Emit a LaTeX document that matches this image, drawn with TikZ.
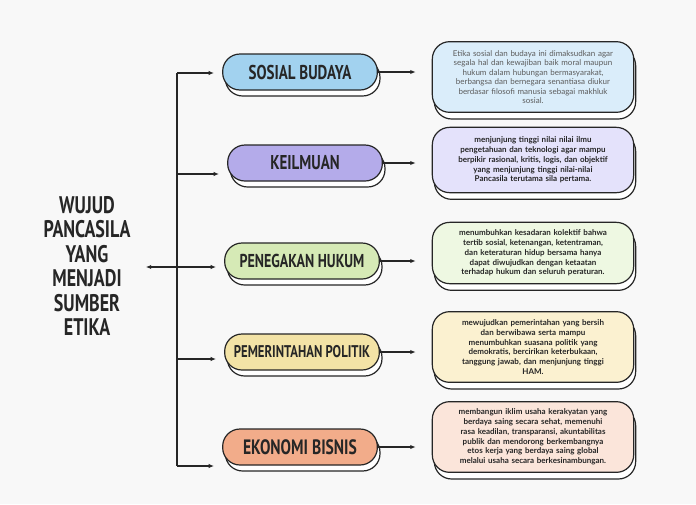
\documentclass[tikz,border=0pt]{standalone}
\usepackage{fontspec}
\setmainfont{Lato}
\newfontfamily\headfont{PT Sans}[FakeStretch=0.75]
\newfontfamily\bodyfont{Lato}
\usepackage{tikz}
\usetikzlibrary{arrows.meta,positioning,shadows}
\definecolor{pagebg}{HTML}{F8F8F8}
\definecolor{inkc}{HTML}{262626}
\definecolor{sosialc}{HTML}{A2D2EF}
\definecolor{ilmuc}{HTML}{B4ABEA}
\definecolor{hukumc}{HTML}{D6EAB6}
\definecolor{politikc}{HTML}{F3E3A6}
\definecolor{ekonomic}{HTML}{F2AC8A}
\definecolor{sosialbg}{HTML}{DAEDFA}
\definecolor{ilmubg}{HTML}{E4E2FB}
\definecolor{hukumbg}{HTML}{EEF8E2}
\definecolor{politikbg}{HTML}{FBF1D0}
\definecolor{ekonomibg}{HTML}{FBE5DA}
\newcommand{\pillsize}[1]{\headfont\bfseries\fontsize{#1}{17}\selectfont}
\hyphenpenalty=10000\relax

\begin{document}
\begin{tikzpicture}[x=0.75pt,y=-0.75pt,
  pill/.style={draw=inkc,line width=0.9pt,rounded corners=13pt,
    minimum width=116pt,minimum height=27pt,inner sep=2pt,text=inkc,
    font=\pillsize{15},
    drop shadow={opacity=1,fill=white,draw=inkc,line width=0.9pt,
      shadow xshift=2pt,shadow yshift=-4.5pt}},
  note/.style={draw=inkc,line width=0.9pt,rounded corners=13pt,
    minimum width=151pt,text width=140pt,align=center,inner sep=4pt,
    text=inkc,font=\bodyfont\bfseries\fontsize{6}{7.3}\selectfont,
    drop shadow={opacity=1,fill=white,draw=inkc,line width=0.9pt,
      shadow xshift=1.5pt,shadow yshift=-5pt}},
  arr/.style={-{Latex[length=4pt,width=3.2pt]},line width=0.8pt,draw=inkc},
]
\fill[pagebg] (0,0) rectangle (696,504);

% title
\node[align=center,text=inkc,font=\headfont\bfseries\fontsize{18}{18.4}\selectfont]
  (title) at (87,266) {WUJUD\\PANCASILA\\YANG\\MENJADI\\SUMBER\\ETIKA};

% middle column
\node[pill,fill=sosialc] (p1) at (300,72) {SOSIAL BUDAYA};
\node[pill,fill=ilmuc] (p2) at (305,163) {KEILMUAN};
\node[pill,fill=hukumc,font=\pillsize{14}] (p3) at (302,261) {PENEGAKAN HUKUM};
\node[pill,fill=politikc,font=\pillsize{12.7}] (p4) at (302,352) {PEMERINTAHAN POLITIK};
\node[pill,fill=ekonomic,font=\pillsize{15.6}] (p5) at (300,447) {EKONOMI BISNIS};

% right column
\node[note,fill=sosialbg,minimum height=53pt,
      font=\bodyfont\fontsize{6}{7.1}\selectfont,text=inkc!75] (b1) at (533,77)
  {Etika sosial dan budaya ini dimaksudkan agar\\ segala hal dan kewajiban baik moral maupun\\ hukum dalam hubungan bermasyarakat,\\ berbangsa dan bernegara senantiasa diukur\\ berdasar filosofi manusia sebagai makhluk\\ sosial.};
\node[note,fill=ilmubg,minimum height=49pt] (b2) at (533,160)
  {menjunjung tinggi nilai nilai ilmu\\ pengetahuan dan teknologi agar mampu\\ berpikir rasional, kritis, logis, dan objektif\\ yang menjunjung tinggi nilai-nilai\\ Pancasila terutama sila pertama.};
\node[note,fill=hukumbg,minimum height=46pt] (b3) at (533,253)
  {menumbuhkan kesadaran kolektif bahwa\\ tertib sosial, ketenangan, ketentraman,\\ dan keteraturan hidup bersama hanya\\ dapat diwujudkan dengan ketaatan\\ terhadap hukum dan seluruh peraturan.};
\node[note,fill=politikbg,minimum height=53pt] (b4) at (533,347)
  {mewujudkan pemerintahan yang bersih\\ dan berwibawa serta mampu\\ menumbuhkan suasana politik yang\\ demokratis, bercirikan keterbukaan,\\ tanggung jawab, dan menjunjung tinggi\\ HAM.};
\node[note,fill=ekonomibg,minimum height=53pt] (b5) at (533,437)
  {membangun iklim usaha kerakyatan yang\\ berdaya saing secara sehat, memenuhi\\ rasa keadilan, transparansi, akuntabilitas\\ publik dan mendorong berkembangnya\\ etos kerja yang berdaya saing global\\ melalui usaha secara berkesinambungan.};

% spine
\coordinate (s1) at (177,73);
\coordinate (s2) at (177,174);
\coordinate (s3) at (177,267);
\coordinate (s4) at (177,359);
\coordinate (s5) at (177,466);
\draw[line width=0.8pt,inkc] (s1) -- (s5);

\foreach \i in {1,2,4,5}
  \draw[arr] (s\i) -- ([xshift=-6pt]s\i -| p\i.west);
\draw[arr,{Latex[length=4pt,width=3.2pt]}-{Latex[length=4pt,width=3.2pt]}]
  ([xshift=8pt]title.east |- s3) -- ([xshift=-6pt]s3 -| p3.west);

\foreach \i in {1,...,5}
  \draw[arr] (p\i.east) -- ([xshift=-12pt]p\i.east -| b\i.west);
\end{tikzpicture}
\end{document}
